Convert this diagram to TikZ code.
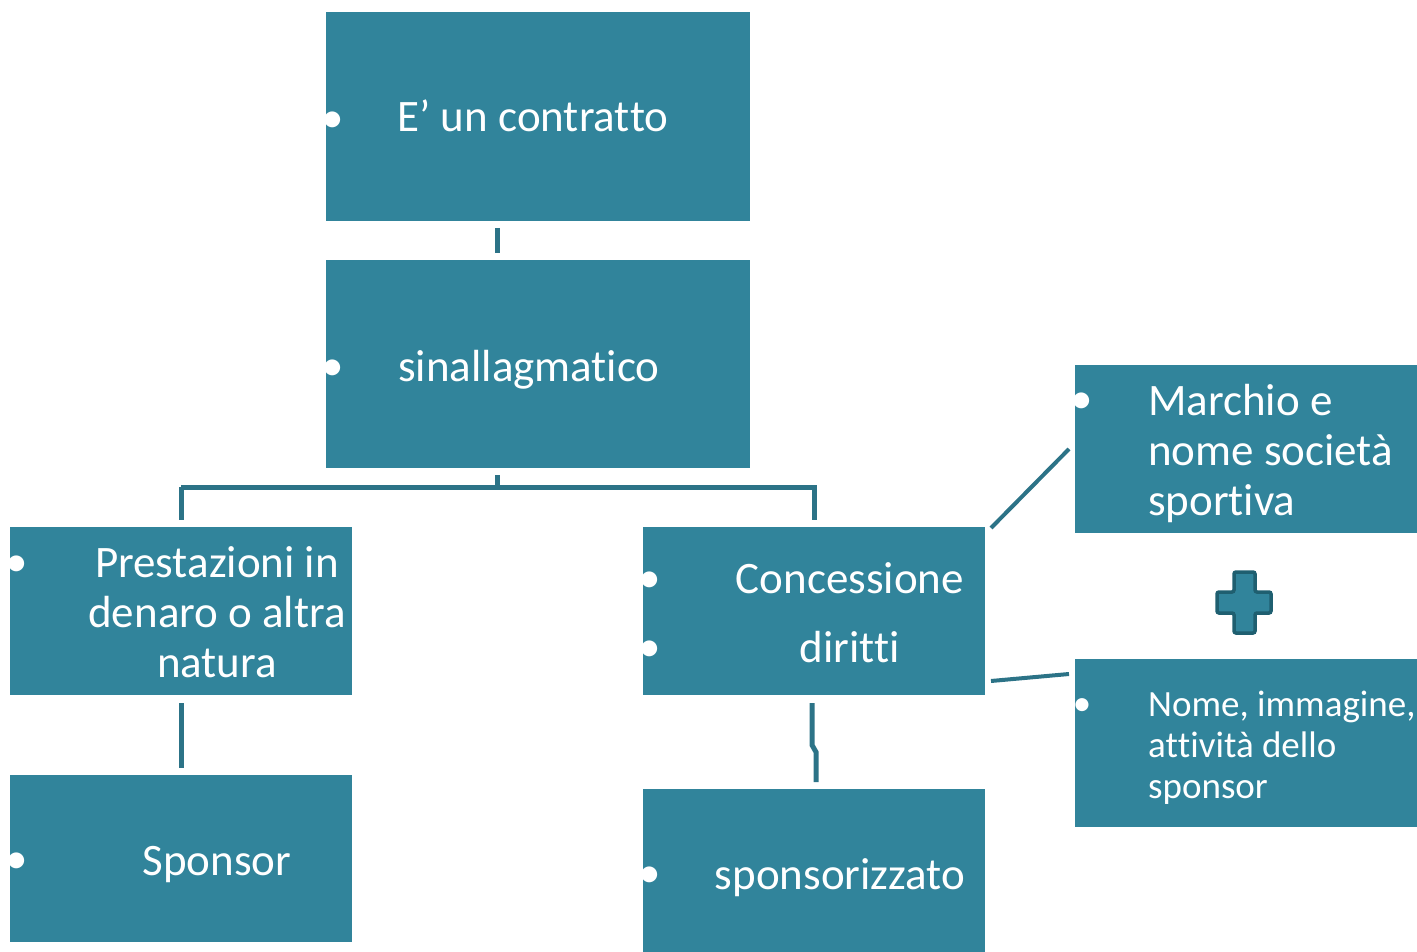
\documentclass[tikz,border=0pt]{standalone}
\usepackage{fontspec}
\setmainfont{Carlito}
\newcommand\zk{\kern0pt{}}
\usetikzlibrary{calc}
\definecolor{boxc}{RGB}{49,132,155}
\definecolor{linec}{RGB}{44,115,135}
\definecolor{plusb}{RGB}{31,95,112}
\begin{document}
\begin{tikzpicture}[x=1pt,y=-1pt,
  box/.style={fill=boxc,draw=none,anchor=north west,inner sep=0pt,outer sep=0pt},
  txt/.style={text=white,inner sep=0pt,font=\fontsize{45}{50}\selectfont,align=center,yshift=-4pt},
  bul/.style={text=white,inner sep=0pt,font=\fontsize{45}{50}\selectfont,yshift=-4pt},
  smalltxt/.style={text=white,inner sep=0pt,font=\fontsize{37}{41}\selectfont,align=left,anchor=west,yshift=-4pt},
  conn/.style={draw=linec,line width=5pt,line join=miter},
  plusshape/.style={fill=boxc,draw=plusb,line width=3.5pt,rounded corners=2pt}
]
\useasboundingbox (0,0) rectangle (1417,952);
% boxes
\node[box,minimum width=424pt,minimum height=209pt] (A) at (326,12) {};
\node[box,minimum width=424pt,minimum height=208pt] (B) at (326,260) {};
\node[box,minimum width=342pt,minimum height=168pt] (C) at (10,527) {};
\node[box,minimum width=342pt,minimum height=168pt] (D) at (643,527) {};
\node[box,minimum width=342pt,minimum height=167pt] (E) at (10,775) {};
\node[box,minimum width=342pt,minimum height=163pt] (F) at (643,789) {};
\node[box,minimum width=342pt,minimum height=168pt] (G) at (1075,365) {};
\node[box,minimum width=342pt,minimum height=168pt] (H) at (1075,659) {};
% bullets
\node[bul] (bA) at (333,118) {•};
\node[bul] (bB) at (333,366) {•};
\node[bul] (bC) at (17,562) {•};
\node[bul] (bD1) at (650,578) {•};
\node[bul] (bD2) at (650,647) {•};
\node[bul] (bE) at (17,859) {•};
\node[bul] (bF) at (650,873) {•};
\node[bul] (bG) at (1082,399) {•};
\node[bul,font=\fontsize{37}{41}\selectfont] (bH) at (1082,703) {•};
% texts
\node[txt] (tA) at (533,118) {\strut E’ un contrat\zk to};
\node[txt] (tB) at (529,367) {\strut sinallagmat\zk ico};
\node[txt] (tC) at (217,613) {\strut Prestazioni in\\ \strut denaro o altra\\ \strut natura};
\node[txt] (tD) at (850,613.5) {\strut Concessione\\[19pt] \strut dirit\zk t\zk i};
\node[txt] (tE) at (217,861) {\strut Sponsor};
\node[txt] (tF) at (840,875) {\strut sponsorizzato};
\node[txt,align=left,anchor=west] (tG) at (1148,451) {\strut Marchio e\\ \strut nome società\\ \strut sport\zk iva};
\node[smalltxt] (tH) at (1148,745) {\strut Nome, immagine,\\ \strut at\zk t\zk ività dello\\ \strut sponsor};
% connector x positions
\coordinate (xAB) at (497,0);
\coordinate (xC) at (181,0);
\coordinate (xD) at (814,0);
\coordinate (xD1) at (812,0);
\coordinate (xD2) at (816,0);
% connectors
\draw[conn] ([yshift=-7pt]A.south -| xAB) -- ([yshift=7pt]B.north -| xAB);
\draw[conn] ([yshift=-7pt]B.south -| xAB) -- ([yshift=-19pt]B.south -| xAB);
\draw[conn] ([yshift=-19pt]B.south -| xC) -| ([yshift=7pt]C.north -| xC);
\draw[conn] ([yshift=-19pt]B.south -| xC) -- ([yshift=-19pt]B.south -| xD) -- ([yshift=7pt]D.north -| xD);
\draw[conn] ([yshift=-8pt]C.south -| xC) -- ([yshift=7pt]E.north -| xC);
\draw[conn] ([yshift=-8pt]D.south -| xD1) -- ([yshift=-50pt]D.south -| xD1) -- ([yshift=-57pt]D.south -| xD2) -- ([yshift=7pt]F.north -| xD2);
\draw[conn,line width=4pt] ([shift={(6pt,-1pt)}]D.north east) -- ([shift={(-6pt,0pt)}]G.west);
\draw[conn,line width=4pt] ([shift={(6pt,14pt)}]D.south east) -- ([shift={(-6pt,-15pt)}]H.north west);
% plus sign
\draw[plusshape] (1234,572) -- (1255,572) -- (1255,592) -- (1271,592) -- (1271,613) -- (1255,613) -- (1255,633) -- (1234,633) -- (1234,613) -- (1217,613) -- (1217,592) -- (1234,592) -- cycle;
\end{tikzpicture}
\end{document}
